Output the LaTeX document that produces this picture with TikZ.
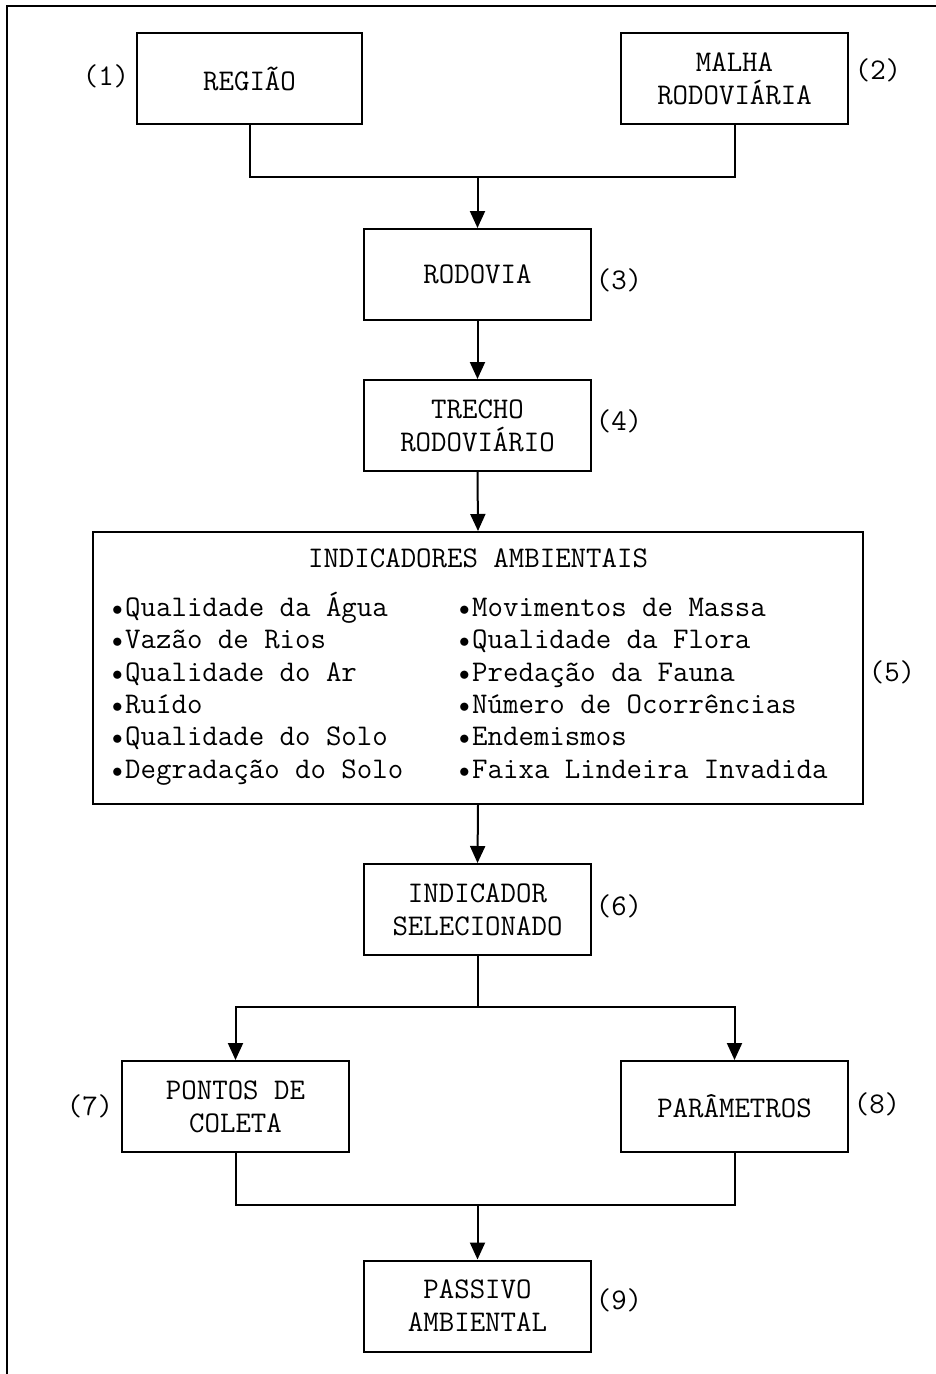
\documentclass[tikz,border=0pt]{standalone}
\usepackage{fontspec}
\usetikzlibrary{arrows.meta}
\newcommand{\itembul}{\makebox[13pt][l]{\raisebox{1pt}{\scalebox{0.85}{$\bullet$}}}}
\begin{document}
\begin{tikzpicture}[x=1pt,y=-1pt,
  every node/.style={font=\ttfamily\fontsize{30}{33}\selectfont, inner sep=0pt},
  flowbox/.style={draw, line width=2pt, minimum width=227pt, minimum height=91pt, align=center},
  tag/.style={},
  listcol/.style={anchor=north west, align=left, font=\ttfamily\fontsize{30}{32.3}\selectfont},
  link/.style={line width=2pt},
  flow/.style={line width=2pt, -{Triangle[length=17pt,width=15pt]}}]
\useasboundingbox (0,0) rectangle (936,1374);
% page frame (top and left rules)
\draw[line width=2pt] (936,6) -- (7,6) -- (7,1374);

% boxes
\node[flowbox, minimum width=225pt] (b1) at (249.5,78.5) {REGIÃO};
\node[flowbox] (b2) at (734.5,78.5) {MALHA\\RODOVIÁRIA};
\node[flowbox] (b3) at (477.5,274.5) {RODOVIA};
\node[flowbox] (b4) at (477.5,425.5) {TRECHO\\RODOVIÁRIO};
\node[flowbox, minimum width=770pt, minimum height=272pt] (b5) at (478,668) {};
\node[flowbox] (b6) at (477.5,909.5) {INDICADOR\\SELECIONADO};
\node[flowbox] (b7) at (235.5,1106.5) {PONTOS DE\\COLETA};
\node[flowbox] (b8) at (734.5,1106.5) {PARÂMETROS};
\node[flowbox] (b9) at (477.5,1306) {PASSIVO\\AMBIENTAL};

% contents of the indicator box
\node (title) at (478,558) {INDICADORES AMBIENTAIS};
\node[listcol] (colL) at (112,592) {%
\itembul Qualidade da Água\\
\itembul Vazão de Rios\\
\itembul Qualidade do Ar\\
\itembul Ruído\\
\itembul Qualidade do Solo\\
\itembul Degradação do Solo};
\node[listcol] (colR) at (459,592) {%
\itembul\vphantom{Á}Movimentos de Massa\\
\itembul Qualidade da Flora\\
\itembul Predação da Fauna\\
\itembul Número de Ocorrências\\
\itembul Endemismos\\
\itembul Faixa Lindeira Invadida};

% step numbers
\node[tag] (t1) at (106,76) {(1)};
\node[tag] (t2) at (878,70) {(2)};
\node[tag] (t3) at (619,280) {(3)};
\node[tag] (t4) at (619,421) {(4)};
\node[tag] (t5) at (892,672) {(5)};
\node[tag] (t6) at (619,906) {(6)};
\node[tag] (t7) at (90,1106) {(7)};
\node[tag] (t8) at (877,1104) {(8)};
\node[tag] (t9) at (619,1300) {(9)};

% junction points
\coordinate (j1) at (477.5,177);
\coordinate (j2) at (477.5,1007);
\coordinate (j3) at (477.5,1205);

% connectors
\draw[link] (b1.south) |- (j1) -| (b2.south);
\draw[flow] (j1) -- (b3.north);
\draw[flow] (b3.south) -- (b4.north);
\draw[flow] (b4.south) -- (b5.north);
\draw[flow] (b5.south) -- (b6.north);
\draw[link] (b6.south) -- (j2);
\draw[flow] (j2) -| (b7.north);
\draw[flow] (j2) -| (b8.north);
\draw[link] (b7.south) |- (j3) -| (b8.south);
\draw[flow] (j3) -- (b9.north);
\end{tikzpicture}
\end{document}
